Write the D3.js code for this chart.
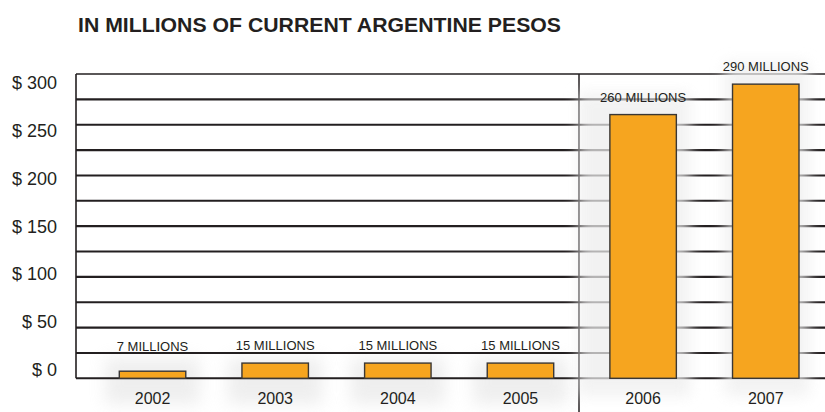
<!DOCTYPE html>
<html>
<head>
<meta charset="utf-8">
<script src="https://cdn.jsdelivr.net/npm/d3@7"></script>
<style>
  html, body { margin: 0; padding: 0; background: #ffffff; }
  svg { display: block; font-family: "Liberation Sans", Arial, Helvetica, sans-serif; }
</style>
</head>
<body>
<svg id="chart" width="825" height="412"></svg>
<script>
// Annual amounts, in millions of current Argentine pesos
const years = ["2002", "2003", "2004", "2005", "2006", "2007"];
const amounts = [7, 15, 15, 15, 260, 290];
const amountLabels = ["7 MILLIONS", "15 MILLIONS", "15 MILLIONS", "15 MILLIONS", "260 MILLIONS", "290 MILLIONS"];

// Value axis: labelled ticks and ruled lines
const labelTicks = [0, 50, 100, 150, 200, 250, 300];
const labelTickText = ["$ 0", "$ 50", "$ 100", "$ 150", "$ 200", "$ 250", "$ 300"];
const ruleTicks = [0, 25, 50, 75, 100, 125, 150, 175, 200, 225, 250, 275, 300];

const titleText = "IN MILLIONS OF CURRENT ARGENTINE PESOS";

const ink = "#231f20";
const barFill = "#f6a51f";
const barStroke = "#3a3735";

const svg = d3.select("#chart");
const W = 825;

const plotLeft = 76, plotTop = 74, plotBottom = 378.3;
const dividerX = 579;

const x = d3.scaleBand()
  .domain(years)
  .range([93.3, W])
  .paddingInner(0.458)
  .paddingOuter(0.212);

const y = d3.scaleLinear().domain([0, 300]).range([plotBottom, plotTop]);
// tick labels sit on a slightly tighter ladder than the rules
const yLabel = d3.scaleLinear().domain([0, 300]).range([370, 82.5]);

const defs = svg.append("defs");
defs.append("filter").attr("id", "soft")
  .attr("x", "-60%").attr("y", "-30%").attr("width", "220%").attr("height", "160%")
  .append("feGaussianBlur").attr("stdDeviation", 7);
defs.append("filter").attr("id", "haze")
  .attr("x", "-60%").attr("y", "-60%").attr("width", "220%").attr("height", "220%")
  .append("feGaussianBlur").attr("stdDeviation", 8);

const rows = years.map((yr, i) => ({ year: yr, value: amounts[i], label: amountLabels[i], big: amounts[i] > 100 }));

// faint haze under the small bars and their year labels
svg.append("g").selectAll("rect")
  .data(rows.filter(d => !d.big))
  .join("rect")
  .attr("x", d => x(d.year) - 14)
  .attr("y", 358)
  .attr("width", x.bandwidth() + 28)
  .attr("height", 46)
  .attr("fill", "#c9c9c9")
  .attr("opacity", 0.3)
  .attr("filter", "url(#haze)");

// ruled lines
svg.append("g").selectAll("line")
  .data(ruleTicks)
  .join("line")
  .attr("x1", plotLeft)
  .attr("x2", W)
  .attr("y1", d => y(d))
  .attr("y2", d => y(d))
  .attr("stroke", ink)
  .attr("stroke-width", d => d === 300 ? 1.6 : 2.1);

// left edge of the plot
svg.append("line")
  .attr("x1", plotLeft).attr("x2", plotLeft)
  .attr("y1", y(300)).attr("y2", y(0))
  .attr("stroke", ink).attr("stroke-width", 1.6);

// divider between 2005 and 2006
svg.append("line")
  .attr("x1", dividerX).attr("x2", dividerX)
  .attr("y1", y(300)).attr("y2", 412)
  .attr("stroke", ink).attr("stroke-width", 1.5);

// soft glow around the tall bars, washing out the rules behind them
const shadow = svg.append("g");
shadow.selectAll("rect")
  .data(rows.filter(d => d.big))
  .join("rect")
  .attr("x", (d, i) => x(d.year) - (i === 0 ? 32 : 8))
  .attr("y", d => y(d.value) - 22)
  .attr("width", (d, i) => x.bandwidth() + (i === 0 ? 46 : 18))
  .attr("height", d => y(0) - y(d.value) + 40)
  .attr("fill", "#eeeeee")
  .attr("opacity", 0.72)
  .attr("filter", "url(#soft)");

// bars
svg.append("g").selectAll("rect")
  .data(rows)
  .join("rect")
  .attr("x", d => x(d.year))
  .attr("y", d => y(d.value))
  .attr("width", x.bandwidth())
  .attr("height", d => y(0) - y(d.value))
  .attr("fill", barFill)
  .attr("stroke", barStroke)
  .attr("stroke-width", 1.4);

// value labels above bars
svg.append("g").selectAll("text")
  .data(rows)
  .join("text")
  .attr("x", d => x(d.year) + x.bandwidth() / 2)
  .attr("y", d => Math.min(y(25) - 1.8, y(d.value) - 13))
  .attr("text-anchor", "middle")
  .attr("font-size", 13)
  .attr("fill", ink)
  .text(d => d.label);

// year labels
const xAxis = d3.axisBottom(x).tickSize(0).tickPadding(0);
const gx = svg.append("g").attr("transform", `translate(0, ${plotBottom})`).call(xAxis);
gx.select(".domain").remove();
gx.selectAll("text")
  .attr("y", 26)
  .attr("dy", null)
  .attr("font-size", 16)
  .attr("font-family", null)
  .attr("fill", ink);

// value axis labels
const yAxis = d3.axisLeft(yLabel)
  .tickValues(labelTicks)
  .tickFormat((d, i) => labelTickText[i])
  .tickSize(0)
  .tickPadding(0);
const gy = svg.append("g").attr("transform", "translate(57, 0)").call(yAxis);
gy.select(".domain").remove();
gy.selectAll("text")
  .attr("font-size", 18)
  .attr("font-family", null)
  .attr("fill", ink);

// title
svg.append("text")
  .attr("x", 78)
  .attr("y", 31.7)
  .attr("font-size", 19.5)
  .attr("font-weight", "bold")
  .attr("fill", ink)
  .attr("textLength", 483)
  .attr("lengthAdjust", "spacingAndGlyphs")
  .text(titleText);
</script>
</body>
</html>
